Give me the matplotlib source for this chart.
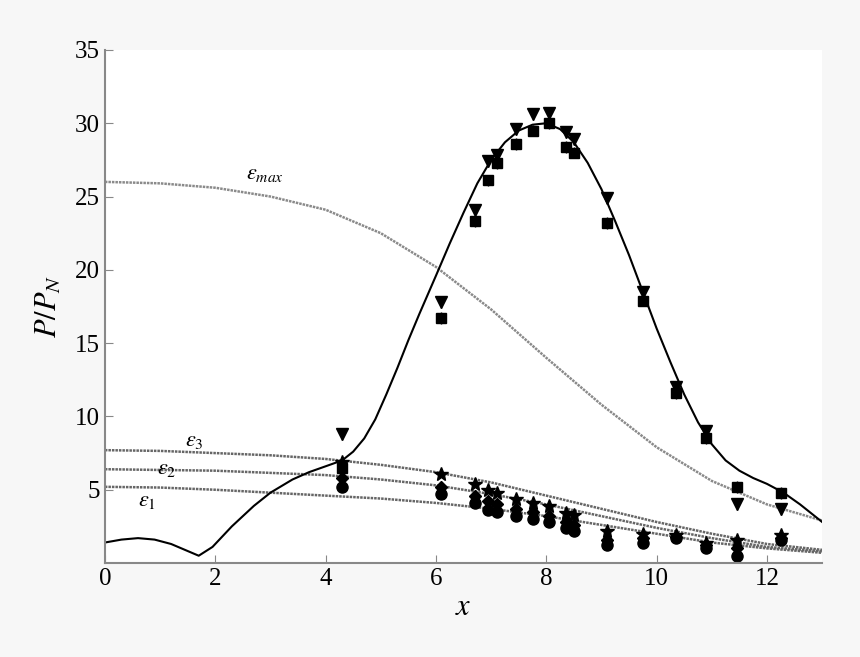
import matplotlib
matplotlib.use("Agg")
import matplotlib.pyplot as plt

plt.rcParams['font.family'] = ['Liberation Serif', 'DejaVu Serif']
plt.rcParams['mathtext.fontset'] = 'stix'

fit_x = [0, 0.3, 0.6, 0.9, 1.2, 1.45, 1.7, 1.95, 2.3, 2.7, 3.0, 3.4, 3.7, 4.0, 4.3, 4.5, 4.7, 4.9, 5.1, 5.3, 5.5, 5.7, 6.0, 6.25, 6.5, 6.75, 7.0, 7.25, 7.5, 7.75, 8.0, 8.25, 8.5, 8.75, 9.0, 9.25, 9.5, 9.75, 10.0, 10.25, 10.5, 10.75, 11.0, 11.25, 11.5, 11.75, 12.0, 12.3, 12.6, 12.8, 13.0]
fit_y = [1.4, 1.6, 1.7, 1.6, 1.3, 0.9, 0.5, 1.1, 2.5, 3.9, 4.8, 5.7, 6.2, 6.6, 7.0, 7.6, 8.5, 9.8, 11.5, 13.3, 15.2, 17.0, 19.6, 21.8, 23.9, 25.9, 27.5, 28.7, 29.5, 29.9, 30.0, 29.6, 28.7, 27.3, 25.5, 23.3, 21.0, 18.5, 16.0, 13.7, 11.5, 9.6, 8.1, 7.0, 6.3, 5.8, 5.4, 4.8, 4.0, 3.4, 2.8]

eps_x = [0, 1, 2, 3, 4, 5, 6, 7, 8, 9, 10, 11, 12, 13]
emax_y = [26.0, 25.9, 25.6, 25.0, 24.1, 22.5, 20.2, 17.3, 14.0, 10.8, 7.9, 5.6, 4.0, 2.9]
e3_y = [7.7, 7.65, 7.5, 7.35, 7.1, 6.7, 6.2, 5.5, 4.6, 3.7, 2.8, 2.0, 1.3, 0.9]
e2_y = [6.4, 6.35, 6.3, 6.15, 6.0, 5.7, 5.3, 4.7, 4.0, 3.2, 2.4, 1.7, 1.1, 0.8]
e1_y = [5.2, 5.15, 5.0, 4.8, 4.6, 4.4, 4.1, 3.7, 3.2, 2.6, 2.0, 1.4, 1.0, 0.7]

pts_x = [4.3, 6.1, 6.7, 6.95, 7.1, 7.45, 7.75, 8.05, 8.35, 8.5, 9.1, 9.75, 10.35, 10.9, 11.45, 12.25]
tri_y = [8.8, 17.8, 24.1, 27.4, 27.8, 29.6, 30.6, 30.7, 29.4, 28.9, 24.9, 18.5, 12.0, 9.0, 4.0, 3.7]
sq_y = [6.5, 16.7, 23.3, 26.1, 27.3, 28.6, 29.5, 30.0, 28.4, 28.0, 23.2, 17.9, 11.6, 8.5, 5.2, 4.8]
star_y = [6.9, 6.1, 5.4, 5.0, 4.8, 4.4, 4.1, 3.9, 3.4, 3.3, 2.2, 2.0, 1.9, 1.4, 1.6, 1.9]
dia_y = [5.8, 5.2, 4.6, 4.2, 4.0, 3.7, 3.5, 3.2, 2.8, 2.6, 1.6, 1.7, 1.8, 1.2, 1.0, 1.7]
circ_y = [5.2, 4.7, 4.1, 3.6, 3.5, 3.2, 3.0, 2.8, 2.4, 2.2, 1.2, 1.4, 1.7, 1.0, 0.5, 1.6]

fig = plt.figure(figsize=(8.6, 6.57), dpi=100, facecolor='#f7f7f7')
ax = fig.add_axes([0.122, 0.143, 0.834, 0.781])
ax.set_facecolor('white')

ax.plot(eps_x, emax_y, color='#8a8a8a', lw=1.8, ls=(0, (1, 0.4)))
for ys in (e3_y, e2_y, e1_y):
    ax.plot(eps_x, ys, color='#666666', lw=1.8, ls=(0, (1, 0.4)))
ax.plot(fit_x, fit_y, color='black', lw=1.5)

ax.errorbar(pts_x, tri_y, yerr=0.4, fmt='v', color='black', ms=8, capsize=0, elinewidth=1)
ax.errorbar(pts_x, sq_y, yerr=0.4, fmt='s', color='black', ms=7, capsize=0, elinewidth=1)
ax.plot(pts_x, star_y, '*', color='black', ms=10)
ax.plot(pts_x, dia_y, 'D', color='black', ms=6)
ax.plot(pts_x, circ_y, 'o', color='black', ms=8)

ax.text(2.55, 26.2, r'$\varepsilon_{max}$', fontsize=16)
ax.text(1.45, 8.0, r'$\varepsilon_3$', fontsize=16)
ax.text(0.95, 6.1, r'$\varepsilon_2$', fontsize=16)
ax.text(0.6, 3.9, r'$\varepsilon_1$', fontsize=16)

ax.set_xlim(0, 13)
ax.set_ylim(0, 35)
ax.set_xticks([0, 2, 4, 6, 8, 10, 12])
ax.set_yticks([5, 10, 15, 20, 25, 30, 35])
ax.tick_params(labelsize=18, direction='in', length=6, color='#888888')
ax.spines['top'].set_visible(False)
ax.spines['right'].set_visible(False)
ax.spines['left'].set_color('#888888')
ax.spines['bottom'].set_color('#888888')
ax.spines['left'].set_linewidth(1.5)
ax.spines['bottom'].set_linewidth(1.5)
ax.set_xlabel(r'$x$', fontsize=22, labelpad=2)
ax.set_ylabel(r'$P/P_N$', fontsize=22, labelpad=8)

fig.savefig('out.png', dpi=100, facecolor=fig.get_facecolor())
